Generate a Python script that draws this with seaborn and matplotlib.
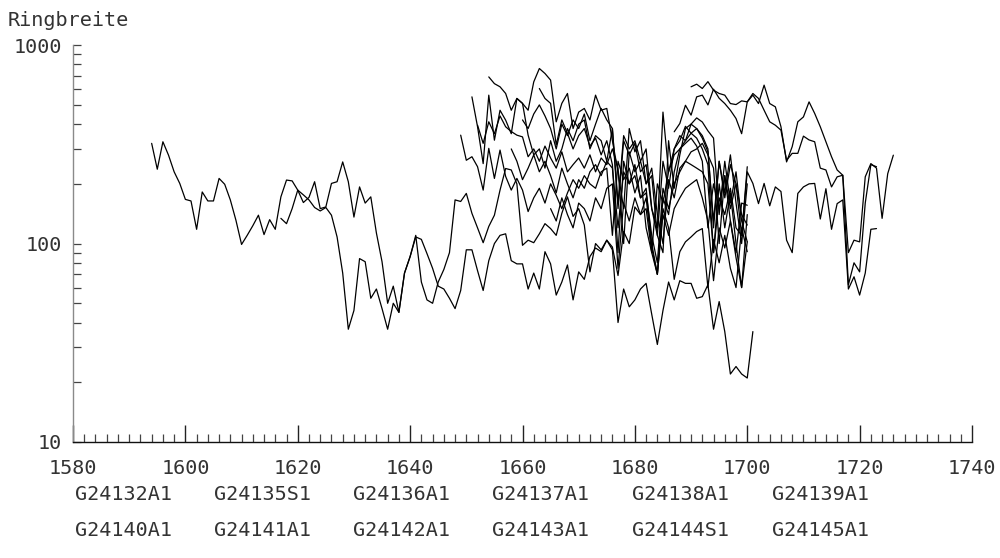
import numpy as np
import pandas as pd
import matplotlib
matplotlib.use("Agg")
import matplotlib.pyplot as plt
from matplotlib.ticker import FixedLocator, LogLocator, NullFormatter, FixedFormatter
import seaborn as sns

# ---------------- data ----------------
names = ["G24132A1", "G24135S1", "G24136A1", "G24137A1", "G24138A1", "G24139A1",
         "G24140A1", "G24141A1", "G24142A1", "G24143A1", "G24144S1", "G24145A1"]

start_years = [1594, 1617, 1649, 1651, 1652, 1654, 1663, 1658, 1660, 1665, 1690, 1687]

s1 = [320, 237, 326, 279, 230, 201, 167, 164, 118, 182, 164, 164, 213, 199, 166, 131, 99, 110, 123, 139, 111, 132, 118,
      172, 209, 207, 186, 161, 171, 205, 150, 153, 201, 205, 258, 205, 136, 193, 160, 172, 113, 81, 50, 61, 45, 71, 86, 108,
      105, 89, 75, 61, 59, 53, 47, 58,
      93, 93, 73, 58, 82, 100, 110, 112, 82, 79, 79, 59, 71, 59, 91, 79, 55, 64, 78, 52, 72, 66, 86, 95, 91,
      104, 93, 40, 59, 48, 52, 59, 63, 44, 31, 46, 64, 52, 65, 63, 63, 53, 54, 62, 37, 51, 36, 22, 24, 22, 21, 36]
s2 = [134, 126, 150, 186, 176, 166, 152, 146, 152, 139, 108, 71, 37, 46, 84, 81, 53, 59, 47, 37, 50, 45, 71, 86, 110,
      64, 52, 50, 64, 74, 90, 166, 163,
      179, 142, 120, 101, 122, 139, 186, 239, 235, 200, 98, 104, 101, 112, 126, 119, 110, 142, 172, 137, 150, 124, 72,
      100, 93, 104, 96, 69, 115, 100, 153, 140, 170, 95, 70, 150, 120, 66, 91, 102, 108, 115, 119, 60, 105, 80, 110, 75,
      60, 120, 91]
s3 = [352, 263, 274, 244, 186, 302, 213, 296, 218, 186, 213, 186, 145, 170, 190, 160, 200, 175, 150, 180, 210, 190, 220,
      200, 190, 230, 240, 110, 260, 210, 240, 180, 220, 120, 90, 200, 160, 230, 280, 300, 320, 340, 310, 260, 120, 200,
      150, 220, 130, 90, 160, 156]
s4 = [549, 388, 253, 560, 332, 470, 419, 358, 539, 509, 352, 280, 300, 240, 330, 260, 300, 380, 330, 400, 420, 300, 350,
      330, 260, 380, 150, 330, 280, 320, 230, 250, 150, 110, 260, 190, 300, 350, 330, 400, 380, 350, 300, 120, 260, 170,
      250, 200, 110, 244]
s5 = [395, 320, 411, 358, 440, 388, 367, 352, 345, 274, 300, 260, 310, 270, 240, 290, 230, 250, 270, 240, 280, 230, 270,
      250, 300, 240, 100, 290, 230, 260, 200, 240, 140, 100, 210, 170, 240, 260, 290, 300, 320, 280, 240, 100, 220, 150,
      200, 140, 124]
s6 = [692, 640, 617, 571, 470, 539, 509, 470, 653, 763, 720, 667, 411, 509, 571, 380, 460, 480, 420, 560, 470, 480, 330,
      230, 150, 380, 290, 330, 200, 220, 110, 90, 330, 190, 280, 380, 400, 430, 410, 370, 340, 140, 260, 160, 230, 130, 102]
s7 = [605, 539, 509, 314, 420, 360, 300, 350, 380, 310, 340, 280, 330, 250, 90, 260, 200, 250, 170, 190, 100, 70, 170,
      140, 230, 300, 330, 360, 340, 300, 250, 90, 200, 120, 180, 100, 60, 140]
s8 = [300, 260, 210, 240, 280, 230, 260, 220, 180, 240, 200, 170, 210, 190, 230, 250, 220, 260, 240, 120, 230, 200, 220,
      170, 180, 110, 80, 190, 150, 200, 230, 260, 250, 240, 230, 200, 90, 170, 140, 190, 120, 110, 230,
      201, 159, 201, 155, 193, 183, 104, 90, 179, 193, 200, 201, 133, 189, 118, 159, 166, 59, 68, 55, 71, 118, 119]
s9 = [420, 380, 450, 500, 440, 380, 300, 400, 350, 420, 380, 450, 330, 400, 480, 420, 380, 160, 350, 300, 330, 260, 300,
      150, 120, 460, 230, 300, 330, 390, 360, 380, 340, 290, 130, 260, 180, 280, 160, 100, 200]
s10 = [150, 130, 170, 140, 120, 160, 150, 130, 170, 150, 190, 200, 75, 160, 130, 170, 140, 150, 90, 70, 140, 110, 150,
       170, 190, 200, 210, 170, 130, 65, 120, 95, 130, 85, 60, 102]
s11 = [617, 636, 605, 655, 593, 571, 560, 508, 502, 524, 518, 560, 508, 629, 508, 489, 388, 258, 308, 411, 435, 518, 453,
       388, 326, 274, 235, 221, 90, 104, 102, 217, 253, 240, 134, 225, 279]
s12 = [366, 403, 498, 444, 549, 560, 500, 600, 540, 508, 470, 427, 358, 518, 571, 539, 470, 411, 395, 373, 263, 285, 285,
       348, 333, 326, 240, 235, 193, 217, 221, 62, 80, 72, 160, 250, 244]

series_values = [s1, s2, s3, s4, s5, s6, s7, s8, s9, s10, s11, s12]

x_tick_labels = ["1580", "1600", "1620", "1640", "1660", "1680", "1700", "1720", "1740"]
y_tick_labels = ["10", "100", "1000"]
y_label = "Ringbreite"

# ---------------- build long table ----------------
rows = []
for name, y0, vals in zip(names, start_years, series_values):
    for i, v in enumerate(vals):
        rows.append({"series": name, "year": y0 + i, "value": v})
df = pd.DataFrame(rows)

sns.set_style("white")
plt.rcParams["font.family"] = ["DejaVu Sans Mono", "DejaVu Sans"]

fig = plt.figure(figsize=(10, 5.58), dpi=100)
ax = fig.add_axes([0.073, 0.208, 0.899, 0.711])

sns.lineplot(data=df, x="year", y="value", units="series", estimator=None,
             color="black", linewidth=0.9, ax=ax, legend=False)

ax.set_yscale("log")
ax.set_xlim(1580, 1740)
ax.set_ylim(10, 1000)

txt_color = "#333333"
fs = 14.5

ax.xaxis.set_major_locator(FixedLocator([int(t) for t in x_tick_labels]))
ax.xaxis.set_major_formatter(FixedFormatter(x_tick_labels))
ax.xaxis.set_minor_locator(FixedLocator(list(range(1582, 1740, 2))))
ax.yaxis.set_major_locator(FixedLocator([10, 100, 1000]))
ax.yaxis.set_major_formatter(FixedFormatter(y_tick_labels))
ax.yaxis.set_minor_locator(LogLocator(base=10, subs=np.arange(2, 10)))
ax.yaxis.set_minor_formatter(NullFormatter())

ax.tick_params(axis="x", which="both", bottom=True, top=False)
ax.tick_params(axis="y", which="both", left=True, right=False)
ax.tick_params(axis="x", which="major", direction="in", length=12, width=1.0, color="#222222",
               pad=12, labelsize=fs, labelcolor=txt_color)
ax.tick_params(axis="x", which="minor", direction="in", length=5.5, width=0.9, color="#444444")
ax.tick_params(axis="y", which="major", direction="in", length=5.5, width=0.9, color="#444444",
               pad=8, labelsize=fs, labelcolor=txt_color)
ax.tick_params(axis="y", which="minor", direction="in", length=5.5, width=0.9, color="#444444")

for s in ["top", "right"]:
    ax.spines[s].set_visible(False)
ax.spines["left"].set_color("#8a8a8a")
ax.spines["left"].set_linewidth(1.0)
ax.spines["bottom"].set_color("#111111")
ax.spines["bottom"].set_linewidth(1.0)
ax.set_xlabel("")
ax.set_ylabel("")
ax.grid(False)

fig.text(0.008, 0.963, y_label, fontsize=fs, color=txt_color, ha="left", va="center")

# series names listed under the chart (2 rows x 6)
col_x = [0.075, 0.214, 0.353, 0.492, 0.632, 0.772]
row_y = [0.113, 0.050]
for k, name in enumerate(names):
    fig.text(col_x[k % 6], row_y[k // 6], name, fontsize=fs, color=txt_color, ha="left", va="center")

fig.savefig("out.png", dpi=100, facecolor="white")
